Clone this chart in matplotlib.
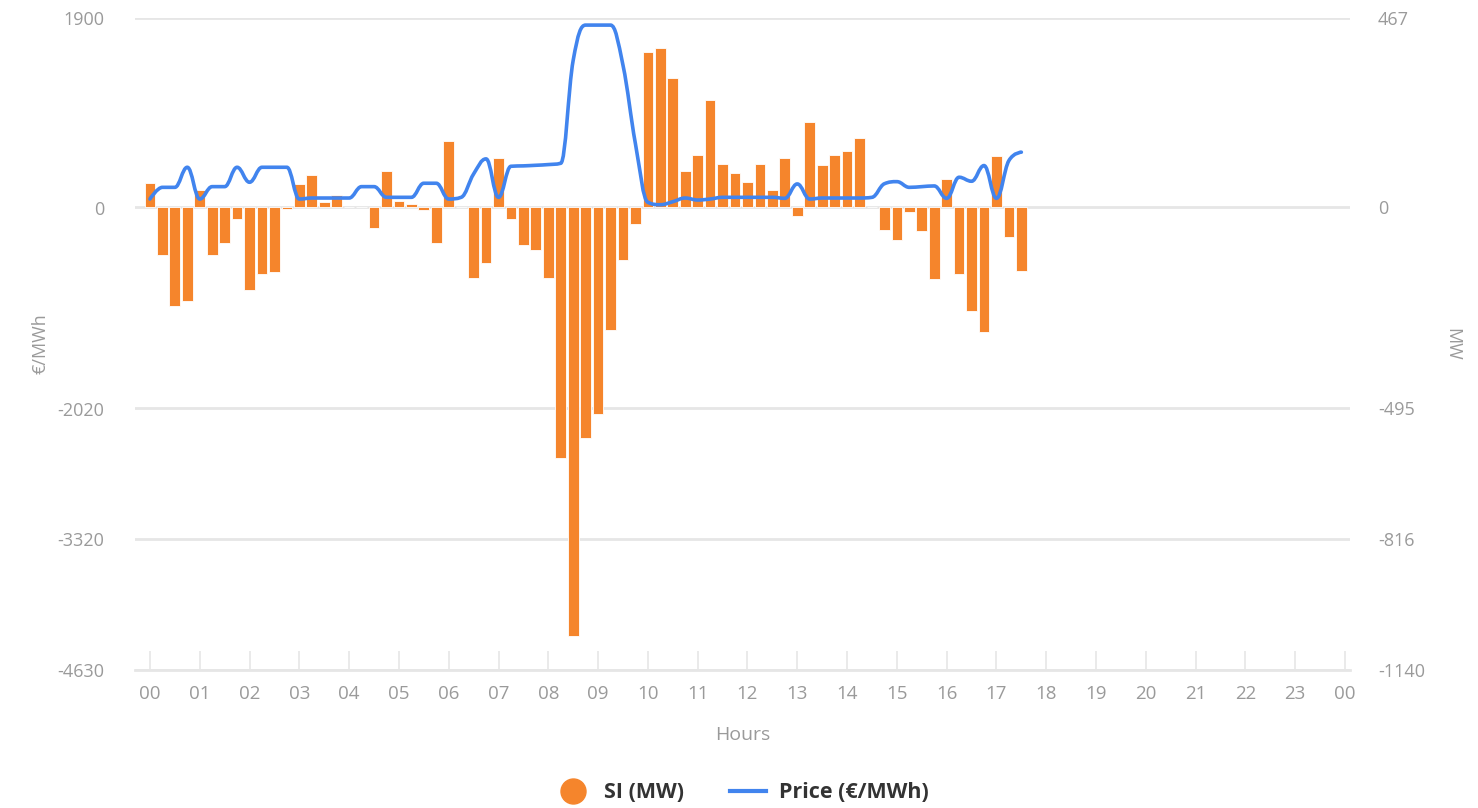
import numpy as np
import matplotlib
matplotlib.use("Agg")
import matplotlib.pyplot as plt
from matplotlib.path import Path
from matplotlib.patches import PathPatch
from matplotlib.lines import Line2D

plt.rcParams["font.family"] = ["Open Sans", "DejaVu Sans"]

# Quarter-hourly system imbalance (MW), 00:00 .. 17:30
si_mw = [61, -118, -244, -231, 42, -118, -87, -28, -203, -164, -160, -3,
         57, 80, 13, 31, 2, 0, -50, 89, 17, 9, -6, -87, 165, 0, -174, -137,
         121, -28, -92, -104,
         -175, -617, -1057, -568, -508, -301, -130, -40, 382, 392, 319, 89,
         130, 265, 108, 85, 62, 108, 44, 122,
         -20, 210, 104, 130, 139, 171, 0, -55, -79, -10, -59, -177, 71, -164,
         -254, -308, 126, -73, -156]

# Quarter-hourly imbalance price (EUR/MWh)
price = [87, 204, 204, 405, 87, 211, 211, 405, 255, 405, 405, 405,
         87, 97, 97, 97, 97, 211, 211, 104, 104, 104, 245, 245, 87, 104,
         338, 489, 104, 415, 419, 425, 432, 445, 1477, 1829, 1829, 1829,
         1427, 640, 54, 30, 60, 97, 77, 87, 104, 104, 104, 104, 104, 94,
         238, 87, 97, 97, 97, 97, 104, 240, 261, 204, 211, 218, 94, 305,
         265, 422, 94, 472, 556]

hour_labels = ["00", "01", "02", "03", "04", "05", "06", "07", "08", "09", "10", "11",
               "12", "13", "14", "15", "16", "17", "18", "19", "20", "21", "22", "23", "00"]
eur_ticks = [-4630, -3320, -2020, 0, 1900]
mw_ticks = [-1140, -816, -495, 0, 467]

ORANGE = "#F5852C"
BLUE = "#4184EE"
GRID = "#e6e6e6"
LABEL = "#9a9a9a"

hours = np.arange(len(si_mw)) * 0.25


def spline_path(xs, ys, smoothing=1.5):
    # Highcharts-like spline through the points
    n = len(xs)
    left = [(xs[i], ys[i]) for i in range(n)]
    right = [(xs[i], ys[i]) for i in range(n)]
    d = smoothing + 1
    for i in range(1, n - 1):
        x, y = xs[i], ys[i]
        lx = (smoothing * x + xs[i - 1]) / d
        ly = (smoothing * y + ys[i - 1]) / d
        rx = (smoothing * x + xs[i + 1]) / d
        ry = (smoothing * y + ys[i + 1]) / d
        corr = (ry - ly) * (rx - x) / (rx - lx) + y - ry
        ly += corr
        ry += corr
        py, ny = ys[i - 1], ys[i + 1]
        if ly > py and ly > y:
            ly = max(py, y)
            ry = 2 * y - ly
        elif ly < py and ly < y:
            ly = min(py, y)
            ry = 2 * y - ly
        if ry > ny and ry > y:
            ry = max(ny, y)
            ly = 2 * y - ry
        elif ry < ny and ry < y:
            ry = min(ny, y)
            ly = 2 * y - ry
        left[i] = (lx, ly)
        right[i] = (rx, ry)
    verts = [(xs[0], ys[0])]
    codes = [Path.MOVETO]
    for i in range(1, n):
        verts += [right[i - 1], left[i], (xs[i], ys[i])]
        codes += [Path.CURVE4] * 3
    return Path(verts, codes)


fig = plt.figure(figsize=(14.78, 8.08), dpi=100)
ax_mw = fig.add_axes([135 / 1478, 138 / 808, 1215 / 1478, 652 / 808])
ax_eur = ax_mw.twinx()

# bars (MW) on the right axis
ax_mw.bar(hours, si_mw, width=0.215, color=ORANGE, edgecolor="white",
          linewidth=0.6, zorder=2)
ax_mw.set_ylim(-1140, 467)
ax_mw.set_yticks(mw_ticks)
ax_mw.set_yticklabels([str(v) for v in mw_ticks])
ax_mw.yaxis.tick_right()
ax_mw.yaxis.set_label_position("right")
ax_mw.set_ylabel("MW", rotation=270, color=LABEL, fontsize=13, labelpad=26)
ax_mw.grid(axis="y", color=GRID, linewidth=2)
ax_mw.set_axisbelow(True)

# price line (EUR/MWh) on the left axis
ax_eur.add_patch(PathPatch(spline_path(list(hours), price), facecolor="none",
                           edgecolor=BLUE, linewidth=2.6, capstyle="round",
                           joinstyle="round", zorder=3))
ax_eur.set_ylim(-4630, 1900)
ax_eur.set_yticks(eur_ticks)
ax_eur.set_yticklabels([str(v) for v in eur_ticks])
ax_eur.yaxis.tick_left()
ax_eur.yaxis.set_label_position("left")
ax_eur.set_ylabel("€/MWh", color=LABEL, fontsize=13, labelpad=6)

ax_mw.set_xlim(-0.3, 24.1)
ax_mw.set_xticks(range(25))
ax_mw.set_xticklabels(hour_labels)
ax_mw.set_xlabel("Hours", color=LABEL, fontsize=14, labelpad=16)

for a in (ax_mw, ax_eur):
    for s in a.spines.values():
        s.set_visible(False)
    a.tick_params(axis="y", length=0, labelsize=13, labelcolor=LABEL)
ax_mw.tick_params(axis="y", pad=20)
ax_eur.tick_params(axis="y", pad=22)
ax_mw.spines["bottom"].set_visible(True)
ax_mw.spines["bottom"].set_color(GRID)
ax_mw.spines["bottom"].set_linewidth(2)
ax_mw.tick_params(axis="x", direction="in", length=14, width=1.2, color=GRID,
                  labelsize=13.5, labelcolor=LABEL, pad=11)

handles = [
    Line2D([], [], marker="o", linestyle="none", markersize=18,
           markerfacecolor=ORANGE, markeredgecolor=ORANGE, label="SI (MW)"),
    Line2D([], [], color=BLUE, linewidth=3, label="Price (€/MWh)"),
]
leg = fig.legend(handles=handles, loc="center", bbox_to_anchor=(0.502, 0.019),
                 ncol=2, frameon=False, handlelength=1.7, handletextpad=0.6,
                 columnspacing=2.1, prop={"weight": "bold", "size": 15.5})
for t in leg.get_texts():
    t.set_color("#333333")

fig.savefig("out.png", dpi=100)
